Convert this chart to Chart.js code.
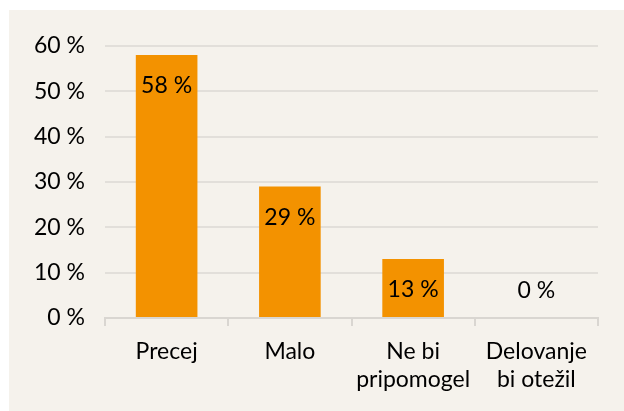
<!DOCTYPE html>
<html>
<head>
<meta charset="utf-8">
<script src="https://cdn.jsdelivr.net/npm/chart.js@4"></script>
<style>
    body { margin: 0; background: #ffffff; }
    #panel {
        position: absolute;
        left: 9px;
        top: 10px;
        width: 615px;
        height: 401px;
        background: #F5F2EC;
    }
</style>
</head>
<body>
<div id="panel"><canvas id="chart" width="615" height="401"></canvas></div>
<script>
// Chart data
const categories = ['Precej', 'Malo', ['Ne bi', 'pripomogel'], ['Delovanje', 'bi otežil']];
const shares = [58, 29, 13, 0];
const yTicks = [0, 10, 20, 30, 40, 50, 60];

const fontFamily = 'Lato, "Noto Sans", sans-serif';
const fontSize = 23;

// Draw the value labels inside the top of each bar
const valueLabels = {
    id: 'valueLabels',
    afterDatasetsDraw(chart) {
        const ctx = chart.ctx;
        const meta = chart.getDatasetMeta(0);
        ctx.save();
        ctx.font = fontSize + 'px ' + fontFamily;
        ctx.fillStyle = '#000000';
        ctx.textAlign = 'center';
        ctx.textBaseline = 'middle';
        meta.data.forEach((bar, i) => {
            const y = Math.min(bar.y + 31, bar.base - 27);
            ctx.fillText(shares[i] + ' %', bar.x, y);
        });
        ctx.restore();
    }
};

const ctx = document.getElementById('chart').getContext('2d');
window.shareChart = new Chart(ctx, {
    type: 'bar',
    data: {
        labels: categories,
        datasets: [{
            data: shares,
            backgroundColor: '#F39200',
            borderWidth: 0,
            barPercentage: 0.5,
            categoryPercentage: 1
        }]
    },
    options: {
        responsive: false,
        animation: false,
        layout: {
            padding: { left: 0, top: 36, right: 26, bottom: 0 }
        },
        plugins: {
            legend: { display: false },
            tooltip: { enabled: false }
        },
        scales: {
            x: {
                grid: {
                    offset: true,
                    color: 'rgba(0,0,0,0)',
                    tickColor: '#D9D6D1',
                    tickLength: 8,
                    lineWidth: 2
                },
                border: { color: '#D9D6D1', width: 2 },
                ticks: {
                    color: '#000000',
                    padding: 12,
                    maxRotation: 0,
                    autoSkip: false,
                    font: { family: fontFamily, size: fontSize, lineHeight: 28 / fontSize }
                },
                afterFit: function(scale) { scale.height = 93; }
            },
            y: {
                min: 0,
                max: 60,
                afterBuildTicks: function(scale) {
                    scale.ticks = yTicks.map(v => ({ value: v }));
                },
                grid: {
                    color: '#E2DFDA',
                    lineWidth: 2,
                    drawTicks: false
                },
                border: { display: false },
                ticks: {
                    color: '#000000',
                    padding: 20,
                    font: { family: fontFamily, size: fontSize },
                    callback: function(value) {
                        return value + ' %';
                    }
                },
                afterFit: function(scale) { scale.width = 96; }
            }
        }
    },
    plugins: [valueLabels]
});
</script>
</body>
</html>
